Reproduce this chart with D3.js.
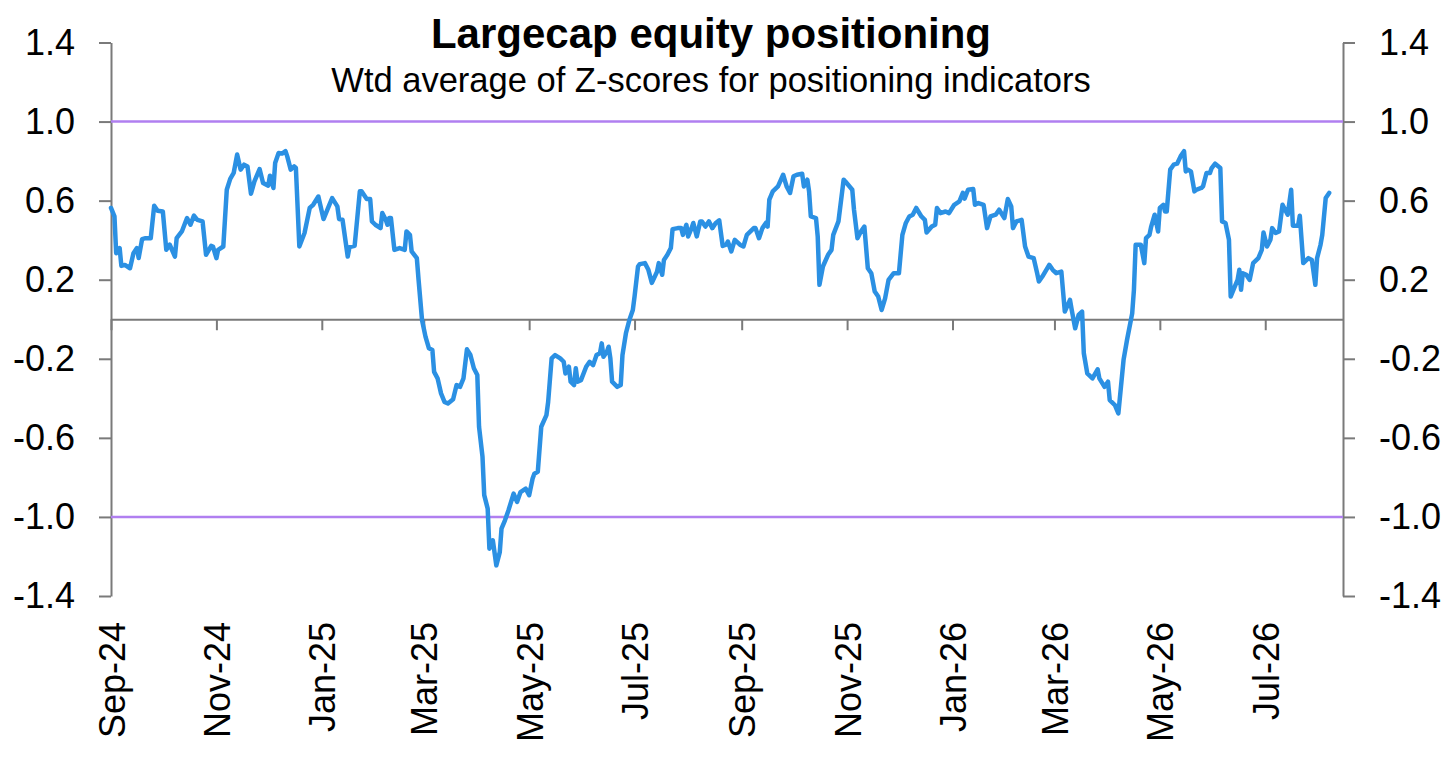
<!DOCTYPE html>
<html>
<head>
<meta charset="utf-8">
<script src="https://cdn.jsdelivr.net/npm/d3@7"></script>
<style>
    body { margin: 0; background: #fff; }
    svg { display: block; font-family: "Liberation Sans", Arial, Helvetica, sans-serif; }
</style>
</head>
<body>
<svg id="chart" width="1456" height="763"></svg>
<script>
// series: days after the start date, and the z-score
const startDate = '2024-09-01';
const endDate = '2026-08-15';

const dayOffsets = [
    0, 2, 3, 5, 6, 8, 11, 13, 15, 16, 18, 20, 23, 25, 27, 30, 32, 34, 37, 38,
    41, 44, 46, 48, 50, 53, 55, 58, 59, 61, 62, 65, 67, 69, 71, 73, 75, 77, 79, 81,
    83, 86, 88, 91, 92, 94, 95, 97, 99, 101, 102, 104, 106, 107, 109, 112, 115, 117, 120, 123,
    126, 128, 131, 132, 134, 137, 138, 141, 144, 145, 148, 150, 151, 153, 156, 157, 159, 160, 161, 162,
    164, 167, 170, 171, 173, 174, 177, 178, 180, 182, 184, 186, 187, 189, 191, 193, 195, 198, 200, 202,
    204, 206, 208, 210, 212, 213, 215, 216, 218, 219, 221, 223, 225, 226, 228, 230, 233, 235, 237, 240,
    242, 244, 245, 247, 249, 252, 253, 255, 257, 260, 262, 263, 265, 266, 268, 269, 270, 272, 275, 277,
    279, 281, 283, 284, 285, 287, 288, 289, 290, 293, 295, 296, 298, 300, 302, 303, 305, 306, 309, 311,
    313, 316, 317, 319, 320, 322, 324, 325, 328, 330, 331, 333, 334, 336, 337, 339, 341, 342, 344, 346,
    348, 350, 352, 354, 356, 357, 359, 361, 364, 366, 368, 372, 373, 375, 377, 379, 380, 381, 383, 386,
    389, 391, 393, 395, 397, 400, 401, 403, 404, 405, 408, 409, 410, 412, 415, 417, 418, 421, 424, 425,
    429, 430, 432, 434, 436, 438, 440, 442, 444, 446, 448, 450, 453, 456, 458, 460, 462, 464, 466, 469,
    471, 472, 475, 477, 478, 480, 483, 485, 488, 491, 493, 494, 496, 499, 500, 502, 505, 507, 509, 512,
    514, 517, 519, 521, 522, 524, 527, 529, 531, 534, 536, 537, 539, 543, 545, 547, 550, 551, 552, 555,
    556, 558, 560, 562, 563, 565, 568, 571, 572, 575, 577, 578, 581, 583, 586, 588, 591, 592, 593, 596,
    598, 599, 601, 602, 604, 606, 607, 609, 610, 611, 613, 615, 617, 619, 621, 622, 623, 625, 627, 628,
    631, 632, 634, 636, 637, 639, 642, 643, 645, 647, 648, 650, 652, 653, 654, 655, 657, 659, 661, 664,
    666, 667, 669, 671, 672, 674, 676, 678, 680, 681, 683, 684, 687, 688, 690, 693, 695, 697, 698, 700,
    701, 703, 705
];

const zScores = [
    0.563, 0.52, 0.334, 0.36, 0.27, 0.275, 0.258, 0.334, 0.36, 0.31, 0.405, 0.41, 0.41, 0.574, 0.549, 0.545, 0.351, 0.377, 0.317, 0.41,
    0.444, 0.512, 0.478, 0.524, 0.503, 0.495, 0.326, 0.371, 0.368, 0.309, 0.351, 0.368, 0.655, 0.71, 0.74, 0.833, 0.757, 0.782, 0.773, 0.635,
    0.697, 0.76, 0.689, 0.676, 0.726, 0.664, 0.79, 0.841, 0.838, 0.85, 0.824, 0.757, 0.773, 0.765, 0.368, 0.436, 0.563, 0.579, 0.621, 0.507,
    0.571, 0.613, 0.571, 0.507, 0.503, 0.317, 0.365, 0.371, 0.647, 0.647, 0.608, 0.608, 0.495, 0.478, 0.461, 0.537, 0.503, 0.478, 0.512, 0.512,
    0.351, 0.36, 0.351, 0.444, 0.427, 0.343, 0.309, 0.2, -0.004, -0.088, -0.147, -0.156, -0.266, -0.299, -0.375, -0.418, -0.426, -0.405, -0.333, -0.342,
    -0.299, -0.152, -0.181, -0.248, -0.282, -0.544, -0.696, -0.89, -0.958, -1.161, -1.119, -1.245, -1.178, -1.059, -1.017, -0.967, -0.882, -0.924, -0.874, -0.857,
    -0.89, -0.806, -0.781, -0.772, -0.544, -0.485, -0.418, -0.198, -0.181, -0.198, -0.215, -0.274, -0.24, -0.316, -0.333, -0.248, -0.316, -0.308, -0.24, -0.215,
    -0.232, -0.181, -0.172, -0.122, -0.19, -0.164, -0.139, -0.198, -0.316, -0.342, -0.333, -0.181, -0.071, -0.004, 0.047, 0.115, 0.267, 0.279, 0.284, 0.25,
    0.184, 0.24, 0.284, 0.225, 0.30, 0.326, 0.36, 0.456, 0.461, 0.461, 0.427, 0.478, 0.419, 0.461, 0.487, 0.419, 0.495, 0.495, 0.469, 0.495,
    0.461, 0.487, 0.50, 0.371, 0.377, 0.393, 0.343, 0.402, 0.377, 0.368, 0.427, 0.461, 0.461, 0.41, 0.461, 0.487, 0.469, 0.605, 0.647, 0.672,
    0.731, 0.672, 0.639, 0.723, 0.731, 0.736, 0.672, 0.706, 0.647, 0.52, 0.512, 0.419, 0.174, 0.267, 0.326, 0.351, 0.427, 0.495, 0.706, 0.697,
    0.655, 0.554, 0.41, 0.444, 0.469, 0.258, 0.233, 0.14, 0.115, 0.047, 0.106, 0.199, 0.233, 0.233, 0.427, 0.487, 0.52, 0.529, 0.563, 0.52,
    0.503, 0.439, 0.469, 0.478, 0.563, 0.537, 0.545, 0.537, 0.579, 0.596, 0.639, 0.61, 0.655, 0.659, 0.579, 0.588, 0.579, 0.461, 0.52, 0.529,
    0.554, 0.512, 0.608, 0.571, 0.461, 0.495, 0.503, 0.368, 0.317, 0.309, 0.233, 0.191, 0.216, 0.275, 0.25, 0.233, 0.241, 0.14, 0.039, 0.098,
    0.047, -0.046, 0.022, 0.039, -0.172, -0.274, -0.299, -0.253, -0.299, -0.342, -0.316, -0.409, -0.434, -0.476, -0.206, -0.105, 0.03, 0.149, 0.377, 0.377,
    0.284, 0.41, 0.427, 0.469, 0.529, 0.444, 0.563, 0.579, 0.545, 0.545, 0.757, 0.782, 0.787, 0.824, 0.85, 0.748, 0.757, 0.748, 0.647, 0.655,
    0.664, 0.672, 0.74, 0.74, 0.765, 0.787, 0.765, 0.495, 0.487, 0.402, 0.115, 0.157, 0.199, 0.25, 0.149, 0.233, 0.225, 0.199, 0.284, 0.309,
    0.351, 0.439, 0.368, 0.402, 0.461, 0.436, 0.444, 0.579, 0.545, 0.529, 0.655, 0.473, 0.473, 0.524, 0.284, 0.309, 0.30, 0.174, 0.309, 0.377,
    0.427, 0.613, 0.639
];

const yTicks = [-1.4, -1.0, -0.6, -0.2, 0.2, 0.6, 1.0, 1.4];
const monthTicks = [
    '2024-09-01', '2024-11-01', '2025-01-01', '2025-03-01', '2025-05-01', '2025-07-01',
    '2025-09-01', '2025-11-01', '2026-01-01', '2026-03-01', '2026-05-01', '2026-07-01'
];
const thresholds = [1.0, -1.0];

const title = 'Largecap equity positioning';
const subtitle = 'Wtd average of Z-scores for positioning indicators';

// layout
const margin = {left: 111, right: 113, top: 42.5, bottom: 167};
const width = 1456, height = 763;
const axisColor = '#7a7a7a';
const fontSize = 36;

const parseDay = d3.utcParse('%Y-%m-%d');
const start = parseDay(startDate);
const data = dayOffsets.map((d, i) => ({date: d3.utcDay.offset(start, d), value: zScores[i]}));

const x = d3.scaleUtc()
    .domain([start, parseDay(endDate)])
    .range([margin.left, width - margin.right]);

const y = d3.scaleLinear()
    .domain([-1.4, 1.4])
    .range([height - margin.bottom, margin.top]);

const svg = d3.select('#chart');
const fmt = d => d.toFixed(1);

// left and right value axes
const styleAxis = (g) => {
    g.select('.domain').attr('stroke', axisColor).attr('stroke-width', 2);
    g.selectAll('.tick line').attr('stroke', axisColor).attr('stroke-width', 2);
    g.selectAll('.tick text')
        .attr('fill', '#000')
        .style('font-size', `${fontSize}px`);
};

svg.append('g')
    .attr('transform', `translate(${margin.left},0)`)
    .call(d3.axisLeft(y).tickValues(yTicks).tickFormat(fmt).tickSize(12).tickSizeOuter(0).tickPadding(24))
    .call(styleAxis);

svg.append('g')
    .attr('transform', `translate(${width - margin.right},0)`)
    .call(d3.axisRight(y).tickValues(yTicks).tickFormat(fmt).tickSize(12).tickSizeOuter(0).tickPadding(24))
    .call(styleAxis);

// purple threshold lines
svg.append('g')
    .selectAll('line')
    .data(thresholds)
    .join('line')
        .attr('x1', x.range()[0])
        .attr('x2', x.range()[1])
        .attr('y1', d => y(d))
        .attr('y2', d => y(d))
        .attr('stroke', '#b07ff0')
        .attr('stroke-width', 2.5);

// date axis sits on the zero line, labels rotated
const zeroY = y(0);
const labelTop = 622;

svg.append('g')
    .attr('transform', `translate(0,${zeroY})`)
    .call(d3.axisBottom(x)
        .tickValues(monthTicks.map(parseDay))
        .tickFormat(d3.utcFormat('%b-%y'))
        .tickSize(11)
        .tickSizeOuter(0))
    .call(g => {
        g.select('.domain').attr('stroke', axisColor).attr('stroke-width', 2);
        g.selectAll('.tick line').attr('stroke', axisColor).attr('stroke-width', 2);
        g.selectAll('.tick text')
            .attr('fill', '#000')
            .style('font-size', `${fontSize}px`)
            .attr('text-anchor', 'end')
            .attr('transform', 'rotate(-90)')
            .attr('x', -(labelTop - zeroY))
            .attr('y', 13)
            .attr('dy', 0);
    });

// the series
const line = d3.line()
    .x(d => x(d.date))
    .y(d => y(d.value));

svg.append('path')
    .datum(data)
    .attr('fill', 'none')
    .attr('stroke', '#2b90e3')
    .attr('stroke-width', 4.5)
    .attr('stroke-linejoin', 'round')
    .attr('stroke-linecap', 'round')
    .attr('d', line);

// titles
svg.append('text')
    .attr('x', 711)
    .attr('y', 48)
    .attr('text-anchor', 'middle')
    .style('font-size', '42px')
    .style('font-weight', 'bold')
    .text(title);

svg.append('text')
    .attr('x', 711)
    .attr('y', 92)
    .attr('text-anchor', 'middle')
    .style('font-size', '34.5px')
    .text(subtitle);
</script>
</body>
</html>
